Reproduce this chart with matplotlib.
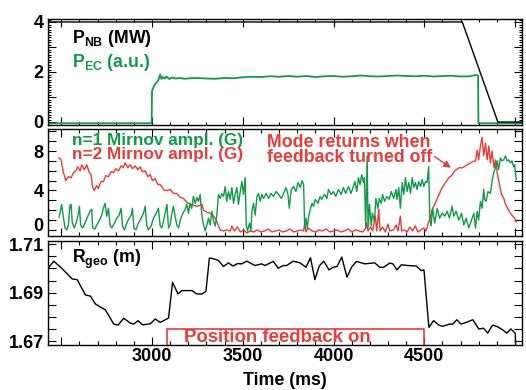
import matplotlib
matplotlib.use("Agg")
import matplotlib.pyplot as plt
import matplotlib.transforms as mtransforms
from matplotlib.ticker import MultipleLocator, FuncFormatter

plt.rcParams['font.family'] = ['Liberation Sans', 'DejaVu Sans']
plt.rcParams['font.weight'] = 'bold'
plt.rcParams['mathtext.fontset'] = 'custom'
plt.rcParams['mathtext.rm'] = 'Liberation Sans:bold'
plt.rcParams['mathtext.bf'] = 'Liberation Sans:bold'
plt.rcParams['mathtext.it'] = 'Liberation Sans:bold'
plt.rcParams['mathtext.default'] = 'rm'

GREEN = "#109a48"
RED = "#e63c3a"

# --- panel 1: heating powers ---
pnb_t = [2427, 4709, 4905, 5040]
pnb_v = [4.0, 4.0, 0.0, 0.0]

pec_t = [2427, 2998, 3000, 3008, 3015, 3025, 3035, 3045, 3052, 3060, 3070, 3080, 3095, 3110,
         3130, 3150, 3180, 3210, 3250, 3300, 3350, 3400, 3450, 3500, 3550, 3600, 3650, 3700,
         3750, 3800, 3850, 3900, 3950, 4000, 4050, 4100, 4150, 4200, 4250, 4300, 4350, 4400,
         4450, 4500, 4550, 4600, 4650, 4700, 4750, 4785, 4796, 4798, 5040]
pec_v = [-0.05, -0.05, 1.25, 1.38, 1.5, 1.58, 1.68, 1.9, 1.72, 1.8, 1.74, 1.82, 1.72, 1.78,
         1.74, 1.76, 1.73, 1.75, 1.76, 1.74, 1.73, 1.76, 1.75, 1.79, 1.81, 1.8, 1.83, 1.81,
         1.84, 1.81, 1.84, 1.8, 1.83, 1.84, 1.81, 1.83, 1.86, 1.83, 1.82, 1.84, 1.86, 1.84,
         1.83, 1.85, 1.82, 1.84, 1.85, 1.82, 1.83, 1.88, 1.86, -0.05, -0.05]

# --- panel 2: Mirnov amplitudes ---
n1_t = [2488, 2493, 2502, 2511, 2521, 2530, 2539, 2548, 2554, 2561, 2572, 2585, 2594, 2600,
        2607, 2618, 2631, 2646, 2659, 2668, 2673, 2686, 2695, 2708, 2723, 2732, 2741, 2751,
        2760, 2769, 2778, 2793, 2806, 2819, 2830, 2837, 2848, 2861, 2874, 2885, 2892, 2900,
        2911, 2925, 2940, 2953, 2962, 2971, 2980, 2995, 3008, 3021, 3035, 3045, 3054, 3063,
        3072, 3082, 3091, 3100, 3109, 3118, 3127, 3137, 3146, 3159, 3170, 3183, 3192, 3201,
        3210, 3219, 3228, 3238, 3247, 3256, 3265, 3275, 3284, 3293, 3302, 3311, 3320, 3330,
        3339, 3348, 3357, 3366, 3376, 3385, 3394, 3403, 3412, 3421, 3431, 3440, 3449, 3458,
        3467, 3476, 3486, 3495, 3504, 3513, 3519, 3526, 3537, 3545, 3550, 3559, 3568, 3578,
        3587, 3596, 3605, 3614, 3629, 3642, 3655, 3669, 3684, 3697, 3712, 3725, 3738, 3749,
        3756, 3767, 3780, 3793, 3804, 3817, 3826, 3835, 3841, 3848, 3855, 3863, 3872, 3881,
        3890, 3899, 3914, 3926, 3935, 3950, 3963, 3972, 3987, 3999, 4012, 4027, 4042, 4054,
        4067, 4082, 4096, 4109, 4118, 4128, 4137, 4146, 4155, 4164, 4170, 4177, 4185, 4190,
        4198, 4207, 4214, 4225, 4233, 4244, 4252, 4263, 4270, 4281, 4294, 4307, 4318, 4331,
        4344, 4350, 4359, 4368, 4378, 4387, 4396, 4405, 4414, 4424, 4433, 4442, 4451, 4460,
        4469, 4479, 4488, 4497, 4506, 4515, 4524, 4530, 4537, 4546, 4557, 4571, 4584, 4598,
        4613, 4626, 4638, 4653, 4662, 4675, 4690, 4705, 4717, 4730, 4745, 4760, 4773, 4782,
        4791, 4799, 4809, 4818, 4827, 4832, 4840, 4851, 4864, 4873, 4882, 4892, 4901, 4909,
        4919, 4928, 4937, 4947, 4956, 4965, 4974, 4983, 4992, 4998, 5006]
n1_v = [1.3, 1.7, 2.6, 1.4, 0.2, 0.0, 0.5, 2.5, 2.6, 0.7, 0.2, 0.9, 1.6, 2.4,
        0.5, 0.2, 0.7, 1.4, 1.9, 2.1, 0.2, 0.1, 0.5, 0.9, 1.5, 2.2, 2.7, 1.4,
        2.2, 0.5, 0.2, 0.7, 1.2, 1.5, 2.2, 0.4, 0.0, 0.7, 1.2, 1.5, 2.2, 0.2,
        0.0, 0.7, 1.2, 1.7, 2.4, 0.5, 0.0, 0.4, 1.2, 1.6, 2.2, 0.4, 0.2, 0.9,
        1.7, 2.6, 0.2, 0.5, 1.7, 2.4, 1.4, 0.5, 0.2, 1.2, 1.7, 2.1, 2.6, 1.7,
        2.7, 2.2, 3.4, 2.7, 3.3, 2.9, 3.6, 1.4, 0.5, -0.1, 0.5, 1.2, 0.5, 1.9,
        0.9, 0.4, 1.5, 3.6, 3.2, 3.7, 3.4, 4.4, 2.9, 3.9, 3.1, 4.3, 2.7, 3.6,
        4.3, 2.6, 3.9, 4.9, 3.6, 5.3, 0.5, -0.1, 0.7, -0.1, 1.9, 2.7, 1.5, 3.4,
        3.7, 2.9, 3.6, 3.2, 3.7, 3.2, 3.7, 3.4, 3.9, 3.6, 3.2, 3.7, 4.3, 3.6,
        2.2, 4.1, 4.4, 3.9, 4.8, 4.3, 5.0, 4.6, 0.2, 1.2, 0.2, 1.4, 2.1, 2.7,
        2.4, 3.1, 2.7, 3.4, 3.1, 3.6, 3.2, 4.1, 3.6, 3.9, 3.4, 4.1, 3.6, 4.3,
        3.7, 4.4, 3.7, 4.4, 4.9, 3.9, 5.3, 4.6, 5.6, 4.8, 5.3, 0.2, 7.5, 0.2,
        2.6, 0.4, 1.7, 0.9, 3.2, 2.2, 3.2, 2.7, 3.6, 2.9, 3.4, 3.1, 3.9, 3.2,
        4.1, 3.1, 4.3, 2.2, 4.8, 3.6, 5.3, 3.9, 4.8, 3.7, 5.3, 4.3, 4.8, 4.1,
        4.9, 4.4, 5.1, 4.4, 4.9, 4.8, 6.4, 1.2, 0.4, 2.2, 0.7, 2.2, 1.2, 1.7,
        1.4, 1.9, 1.2, 2.4, 1.4, 1.9, 1.0, 1.7, 0.5, 1.2, 0.2, 1.0, 1.7, 0.2,
        1.9, 1.0, 2.9, 2.2, 4.1, 3.1, 2.9, 3.9, 3.7, 4.9, 5.8, 6.3, 7.0, 6.1,
        7.3, 7.0, 7.1, 7.5, 7.0, 7.1, 6.8, 7.0, 6.4, 6.6, 5.1]

n2_t = [2488, 2499, 2511, 2525, 2539, 2554, 2567, 2580, 2591, 2604, 2613, 2627, 2640, 2653,
        2664, 2673, 2682, 2695, 2704, 2719, 2732, 2745, 2760, 2774, 2787, 2800, 2815, 2830,
        2841, 2852, 2867, 2879, 2892, 2907, 2922, 2934, 2947, 2962, 2977, 2990, 3002, 3017,
        3032, 3045, 3057, 3068, 3082, 3100, 3118, 3137, 3155, 3173, 3192, 3210, 3228, 3247,
        3265, 3275, 3284, 3302, 3320, 3339, 3354, 3366, 3376, 3394, 3412, 3431, 3440, 3453,
        3471, 3486, 3504, 3523, 3541, 3560, 3580, 3600, 3620, 3640, 3660, 3680, 3700, 3720,
        3740, 3760, 3780, 3800, 3820, 3835, 3841, 3848, 3860, 3880, 3900, 3920, 3940, 3960,
        3980, 4000, 4020, 4040, 4060, 4080, 4100, 4120, 4140, 4160, 4175, 4182, 4190, 4205,
        4215, 4230, 4238, 4249, 4256, 4270, 4285, 4300, 4310, 4330, 4345, 4355, 4368, 4375,
        4390, 4405, 4420, 4435, 4450, 4465, 4480, 4495, 4510, 4525, 4534, 4543, 4558, 4571,
        4584, 4598, 4617, 4635, 4650, 4668, 4690, 4709, 4727, 4745, 4764, 4782, 4791, 4799,
        4809, 4818, 4827, 4837, 4846, 4855, 4864, 4873, 4884, 4892, 4901, 4914, 4925, 4938,
        4947, 4962, 4974, 4987, 4998, 5006]
n2_v = [7.3, 7.1, 5.9, 5.0, 5.4, 5.3, 5.8, 6.0, 6.4, 6.0, 6.6, 6.1, 6.6, 5.9,
        5.6, 4.3, 4.0, 4.5, 4.2, 4.9, 4.9, 5.5, 5.4, 5.9, 5.8, 6.2, 6.0, 6.5,
        6.3, 6.8, 6.3, 6.6, 6.2, 6.5, 6.1, 6.4, 5.9, 6.0, 5.4, 5.6, 5.0, 5.2,
        4.6, 4.6, 4.3, 4.0, 4.0, 4.1, 3.7, 3.7, 3.3, 3.2, 2.8, 2.6, 2.5, 2.4,
        2.5, 2.6, 2.0, 1.8, 1.7, 1.4, 1.0, 0.4, 0.0, -0.1, 0.0, -0.1, 0.4, -0.1,
        0.3, -0.2, 0.0, -0.3, -0.1, -0.2, 0.0, -0.2, -0.1, 0.1, -0.2, -0.1, 0.0, -0.2,
        -0.1, 0.1, -0.2, -0.1, 0.0, -0.1, 0.7, -0.2, 0.2, -0.1, -0.2, 0.0, -0.1, 0.1,
        -0.2, -0.1, 0.0, -0.2, -0.1, 0.1, -0.2, 0.0, -0.1, -0.2, 0.1, 0.7, -0.1, 0.3,
        -0.1, 1.4, -0.1, 2.1, -0.1, 0.3, -0.2, 0.6, -0.1, 0.0, 0.5, -0.1, 1.4, -0.1,
        0.0, -0.2, 0.3, -0.1, 0.4, -0.2, 0.0, 0.2, -0.1, 0.9, 1.2, 2.1, 2.6, 3.2,
        3.7, 4.3, 4.8, 5.3, 5.5, 6.0, 6.3, 6.3, 6.5, 6.7, 6.9, 7.0, 8.1, 7.1,
        8.5, 9.4, 7.5, 8.8, 7.1, 8.5, 6.8, 8.0, 6.3, 7.1, 5.8, 4.6, 3.6, 3.2,
        2.6, 2.1, 1.7, 1.4, 1.2, 0.8]

# --- panel 3: major radius ---
rgeo_t = [2432, 2459, 2505, 2560, 2588, 2633, 2661, 2688, 2725, 2743, 2789, 2813, 2844, 2881,
          2899, 2923, 2948, 2990, 3018, 3045, 3091, 3113, 3143, 3165, 3220, 3247, 3275, 3297,
          3316, 3338, 3366, 3393, 3421, 3445, 3472, 3494, 3522, 3567, 3604, 3622, 3668, 3695,
          3723, 3741, 3778, 3815, 3848, 3873, 3897, 3921, 3946, 3975, 3997, 4019, 4045, 4074,
          4099, 4126, 4172, 4227, 4254, 4276, 4309, 4327, 4349, 4373, 4410, 4456, 4483, 4498,
          4525, 4551, 4580, 4602, 4639, 4657, 4679, 4702, 4730, 4767, 4800, 4826, 4849, 4876,
          4904, 4931, 4954, 4977, 5001, 5006]
rgeo_v = [1.7005, 1.7030, 1.6999, 1.6957, 1.6954, 1.6891, 1.6886, 1.6854, 1.6837, 1.6830,
          1.6771, 1.6767, 1.6795, 1.6775, 1.6771, 1.6785, 1.6768, 1.6772, 1.6792, 1.6778,
          1.6796, 1.6943, 1.6895, 1.6909, 1.6909, 1.6895, 1.6895, 1.6906, 1.7043, 1.7040,
          1.7033, 1.7008, 1.7023, 1.7010, 1.7020, 1.7019, 1.7030, 1.7012, 1.7019, 1.7012,
          1.7029, 1.7001, 1.7012, 1.7012, 1.7030, 1.7023, 1.7005, 1.7044, 1.6954, 1.7010,
          1.7030, 1.6994, 1.7005, 1.7008, 1.7047, 1.6964, 1.7005, 1.7029, 1.7019, 1.7023,
          1.7005, 1.7005, 1.7022, 1.7019, 1.6994, 1.7015, 1.7012, 1.7010, 1.6991, 1.6994,
          1.6758, 1.6785, 1.6767, 1.6762, 1.6771, 1.6771, 1.6789, 1.6771, 1.6778, 1.6789,
          1.6751, 1.6754, 1.6734, 1.6767, 1.6760, 1.6748, 1.6734, 1.6751, 1.6733, 1.6600]

feedback_on = (3082, 4498)
feedback_top = 1.6752

time_labels = [3000, 3500, 4000, 4500]

XLIM = (2427, 5038)
W, H = 526, 390


def px(x, y):
    return x / W, 1 - y / H


def style_axis(ax, ymajor, yminor, ylabels, fmt):
    ax.set_xlim(*XLIM)
    ax.xaxis.set_major_locator(MultipleLocator(500))
    ax.xaxis.set_minor_locator(MultipleLocator(100))
    ax.yaxis.set_major_locator(MultipleLocator(ymajor))
    if yminor:
        ax.yaxis.set_minor_locator(MultipleLocator(yminor))
    ax.yaxis.set_major_formatter(FuncFormatter(
        lambda v, p: (fmt % v) if any(abs(v - l) < 1e-6 for l in ylabels) else ""))
    ax.tick_params(which="both", direction="in", top=True, right=True,
                   labelsize=13, width=0.8)
    ax.tick_params(which="major", length=6, pad=3)
    ax.tick_params(which="minor", length=3)
    for s in ax.spines.values():
        s.set_linewidth(1.0)


fig = plt.figure(figsize=(W / 100, H / 100), dpi=100)
left, right = 48 / W, 522 / W
ax1 = fig.add_axes([left, 1 - 125 / H, right - left, 106 / H])
ax2 = fig.add_axes([left, 1 - 235.5 / H, right - left, 106.5 / H])
ax3 = fig.add_axes([left, 1 - 345 / H, right - left, 104 / H])

ax1.plot(pec_t, pec_v, color=GREEN, lw=1.3)
ax1.plot(pnb_t, pnb_v, color="black", lw=1.0)
ax1.set_ylim(-0.12, 4.12)
style_axis(ax1, 1, 0.1, [0, 2, 4], "%d")
ax1.tick_params(which="minor", length=2)
ax1.set_xticklabels([])

ax2.plot(n2_t, n2_v, color=RED, lw=1.0)
ax2.plot(n1_t, n1_v, color=GREEN, lw=1.0)
ax2.set_ylim(-0.56, 10.23)
style_axis(ax2, 1, None, [0, 4, 8], "%d")
ax2.set_xticklabels([])
ax2.annotate("", xy=(4659, 6.15), xytext=(4543, 7.6),
             arrowprops=dict(arrowstyle="-|>", color=RED, lw=1.0, mutation_scale=10))

ax3.plot(rgeo_t, rgeo_v, color="black", lw=1.0)
ax3.plot([feedback_on[0], feedback_on[0], feedback_on[1], feedback_on[1]],
         [1.6685, feedback_top, feedback_top, 1.6685], color=RED, lw=1.2)
ax3.set_ylim(1.6685, 1.7113)
style_axis(ax3, 0.005, None, [1.67, 1.69, 1.71], "%.2f")
ax3.tick_params(axis="x", which="major", pad=2)
ax3.xaxis.set_major_formatter(FuncFormatter(
    lambda v, p: "%d" % v if int(round(v)) in time_labels else ""))

# lift the "0" of the middle panel clear of the "1.71" below, as in the original
fig.canvas.draw()
lift = mtransforms.ScaledTranslation(0, 5 / 100, fig.dpi_scale_trans)
for tick in ax2.yaxis.get_major_ticks():
    if abs(tick.get_loc()) < 1e-6:
        tick.label1.set_transform(tick.label1.get_transform() + lift)

fs = 12.8
fig.text(*px(72, 43.3), r"P$_{\rm NB}$ (MW)", fontsize=fs, va="baseline")
fig.text(*px(72, 66.7), r"P$_{\rm EC}$ (a.u.)", fontsize=fs, va="baseline", color=GREEN)
fig.text(*px(72, 145), "n=1 Mirnov ampl. (G)", fontsize=12.4, va="baseline", color=GREEN)
fig.text(*px(72, 159.3), "n=2 Mirnov ampl. (G)", fontsize=12.4, va="baseline", color=RED)
fig.text(*px(349, 146.7), "Mode returns when", fontsize=fs, va="baseline", ha="center", color=RED)
fig.text(*px(350, 162.3), "feedback turned off", fontsize=fs, va="baseline", ha="center", color=RED)
fig.text(*px(72, 262.7), r"R$_{\rm geo}$ (m)", fontsize=fs, va="baseline")
fig.text(*px(277.5, 341.5), "Position feedback on", fontsize=13.4, va="baseline", ha="center", color=RED)
fig.text(*px(285, 385), "Time (ms)", fontsize=fs, va="baseline", ha="center")

fig.savefig("out.png", dpi=100)
